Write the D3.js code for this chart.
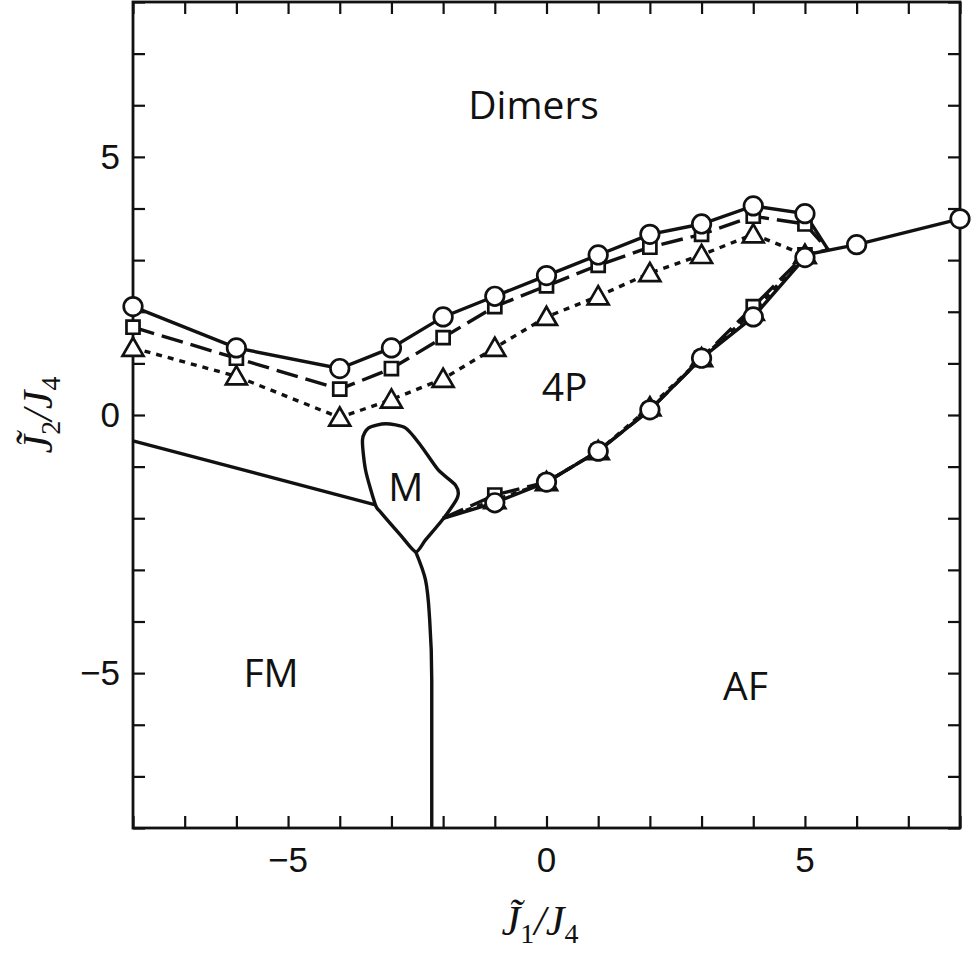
<!DOCTYPE html>
<html><head><meta charset="utf-8">
<script src="https://cdn.jsdelivr.net/npm/d3@7"></script>
<style>body{margin:0;background:#fff}</style>
</head><body><svg width="977" height="956"></svg>
<script>
// data
const xsUpper = [-8, -6, -4, -3, -2, -1, 0, 1, 2, 3, 4, 5];
const circUpper = [2.1, 1.3, 0.9, 1.3, 1.9, 2.3, 2.7, 3.1, 3.5, 3.7, 4.05, 3.9];
const sqUpper = [1.7, 1.1, 0.5, 0.9, 1.5, 2.1, 2.5, 2.9, 3.25, 3.5, 3.85, 3.7];
const triUpper = [1.3, 0.75, -0.05, 0.3, 0.7, 1.3, 1.9, 2.3, 2.75, 3.1, 3.5, 3.1];
const joint = [5.45, 3.2];
const xsLower = [-1, 0, 1, 2, 3, 4, 5];
const circLower = [-1.7, -1.3, -0.7, 0.1, 1.1, 1.9, 3.05];
const sqLower = [-1.55, -1.3, -0.7, 0.1, 1.1, 2.1, 3.1];
const triLower = [-1.65, -1.3, -0.7, 0.15, 1.1, 2.0, 3.1];
const lowerStart = [-2.0, -2.0];
const tailX = [6, 8];
const tailY = [3.3, 3.8];
const fmLine = [[-8, -0.5], [-3.31, -1.74]];
const mBlob = [[-3.31,-1.74],[-3.5,-1.07],[-3.56,-0.48],[-3.44,-0.25],[-3.11,-0.17],[-2.73,-0.25],[-2.44,-0.58],[-2.09,-1.07],[-1.76,-1.36],[-1.72,-1.59],[-1.99,-2.0],[-2.34,-2.42],[-2.53,-2.65],[-2.82,-2.33],[-3.21,-1.88]];
const vertLine = [[-2.53,-2.65],[-2.34,-3.2],[-2.26,-3.97],[-2.22,-5.13],[-2.22,-8]];
const labels = [["Dimers",-0.25,6.0],["4P",0.35,0.55],["M",-2.72,-1.4],["FM",-5.33,-5.0],["AF",3.85,-5.25]];
const tickMajor = [-5, 0, 5];

const svg = d3.select("svg");
const x = d3.scaleLinear().domain([-8, 8]).range([133, 960]);
const y = d3.scaleLinear().domain([-8, 8]).range([828, 2]);
const minor = d3.range(-8, 9);

const ink = "#111";
svg.append("rect").attr("x", 133).attr("y", 2).attr("width", 827).attr("height", 826)
  .attr("fill", "none").attr("stroke", ink).attr("stroke-width", 2.8);

function ticks(axisFn, scale, tr, len) {
  svg.append("g").attr("transform", tr)
    .call(axisFn(scale).tickValues(minor).tickSize(len).tickFormat(""))
    .call(g => g.select(".domain").remove())
    .call(g => g.selectAll("line").attr("stroke", ink).attr("stroke-width", 2.2));
}
ticks(d3.axisBottom, x, "translate(0,828)", -12);
ticks(d3.axisTop, x, "translate(0,2)", -12);
ticks(d3.axisLeft, y, "translate(133,0)", -12);
ticks(d3.axisRight, y, "translate(960,0)", -12);

const tfont = "'Liberation Sans', Arial, sans-serif";
svg.append("g").selectAll("text").data(tickMajor).join("text")
  .attr("x", d => x(d)).attr("y", 872).attr("text-anchor", "middle")
  .attr("font-family", tfont).attr("font-size", 35).attr("fill", ink)
  .text(d => d < 0 ? "\u2212" + (-d) : d);
svg.append("g").selectAll("text").data(tickMajor).join("text")
  .attr("x", 120).attr("y", d => y(d) + 12).attr("text-anchor", "end")
  .attr("font-family", tfont).attr("font-size", 35).attr("fill", ink)
  .text(d => d < 0 ? "\u2212" + (-d) : d);

function axisTitle(g) {
  return g.append("text").attr("font-family", "'Liberation Serif', serif")
    .attr("font-size", 42).attr("font-style", "italic").attr("fill", ink).attr("text-anchor", "middle");
}
const xt = axisTitle(svg.append("g").attr("transform", "translate(540,935)"));
xt.append("tspan").text("J\u0303");
xt.append("tspan").attr("font-size", 28).attr("dy", 8).attr("font-style", "normal").text("1");
xt.append("tspan").attr("dy", -8).text("/J");
xt.append("tspan").attr("font-size", 28).attr("dy", 8).attr("font-style", "normal").text("4");
const yt = axisTitle(svg.append("g").attr("transform", "translate(52,415) rotate(-90)"));
yt.append("tspan").text("J\u0303");
yt.append("tspan").attr("font-size", 28).attr("dy", 8).attr("font-style", "normal").text("2");
yt.append("tspan").attr("dy", -8).text("/J");
yt.append("tspan").attr("font-size", 28).attr("dy", 8).attr("font-style", "normal").text("4");

const line = d3.line().x(d => x(d[0])).y(d => y(d[1]));
const plot = svg.append("g");
function path(pts, dash, kind) {
  let gen = line;
  if (kind === "closed") gen = d3.line().x(d => x(d[0])).y(d => y(d[1])).curve(d3.curveCardinalClosed.tension(0.3));
  if (kind === "curve") gen = d3.line().x(d => x(d[0])).y(d => y(d[1])).curve(d3.curveMonotoneY);
  plot.append("path").attr("d", gen(pts))
    .attr("fill", "none").attr("stroke", ink).attr("stroke-width", 3.4)
    .attr("stroke-dasharray", dash || null);
}
path(fmLine);
path(mBlob, null, "closed");
path(vertLine.slice().reverse(), null, "curve");

const zip = (xs, ys) => xs.map((v, i) => [v, ys[i]]);
const series = [
  {u: circUpper, l: circLower, dash: null, shape: "circle"},
  {u: sqUpper, l: sqLower, dash: "22,8", shape: "square"},
  {u: triUpper, l: triLower, dash: "6,6", shape: "triangle"}
];
series.forEach(s => {
  path(zip(xsUpper, s.u).concat([joint]), s.dash);
  path([lowerStart].concat(zip(xsLower, s.l)), s.dash);
});
path([[5, 3.1]].concat(zip(tailX, tailY)));

const sym = {circle: d3.symbol(d3.symbolCircle, 270), square: d3.symbol(d3.symbolSquare, 170), triangle: d3.symbol(d3.symbolTriangle, 190)};
function marks(pts, shape) {
  plot.append("g").selectAll("path").data(pts).join("path")
    .attr("transform", d => `translate(${x(d[0])},${y(d[1]) + (shape === "triangle" ? 2 : 0)})`)
    .attr("d", sym[shape]()).attr("fill", "#fff").attr("stroke", ink).attr("stroke-width", 2.7);
}
[...series].reverse().forEach(s => {
  marks(zip(xsUpper, s.u), s.shape);
  marks(zip(xsLower, s.l), s.shape);
});
marks(zip(tailX, tailY), "circle");

svg.append("g").selectAll("text").data(labels).join("text")
  .attr("x", d => x(d[1])).attr("y", d => y(d[2]) + 14).attr("text-anchor", "middle")
  .attr("font-family", "'Open Sans', 'Liberation Sans', sans-serif").attr("font-size", 39).attr("fill", ink)
  .text(d => d[0]);
</script></body></html>
